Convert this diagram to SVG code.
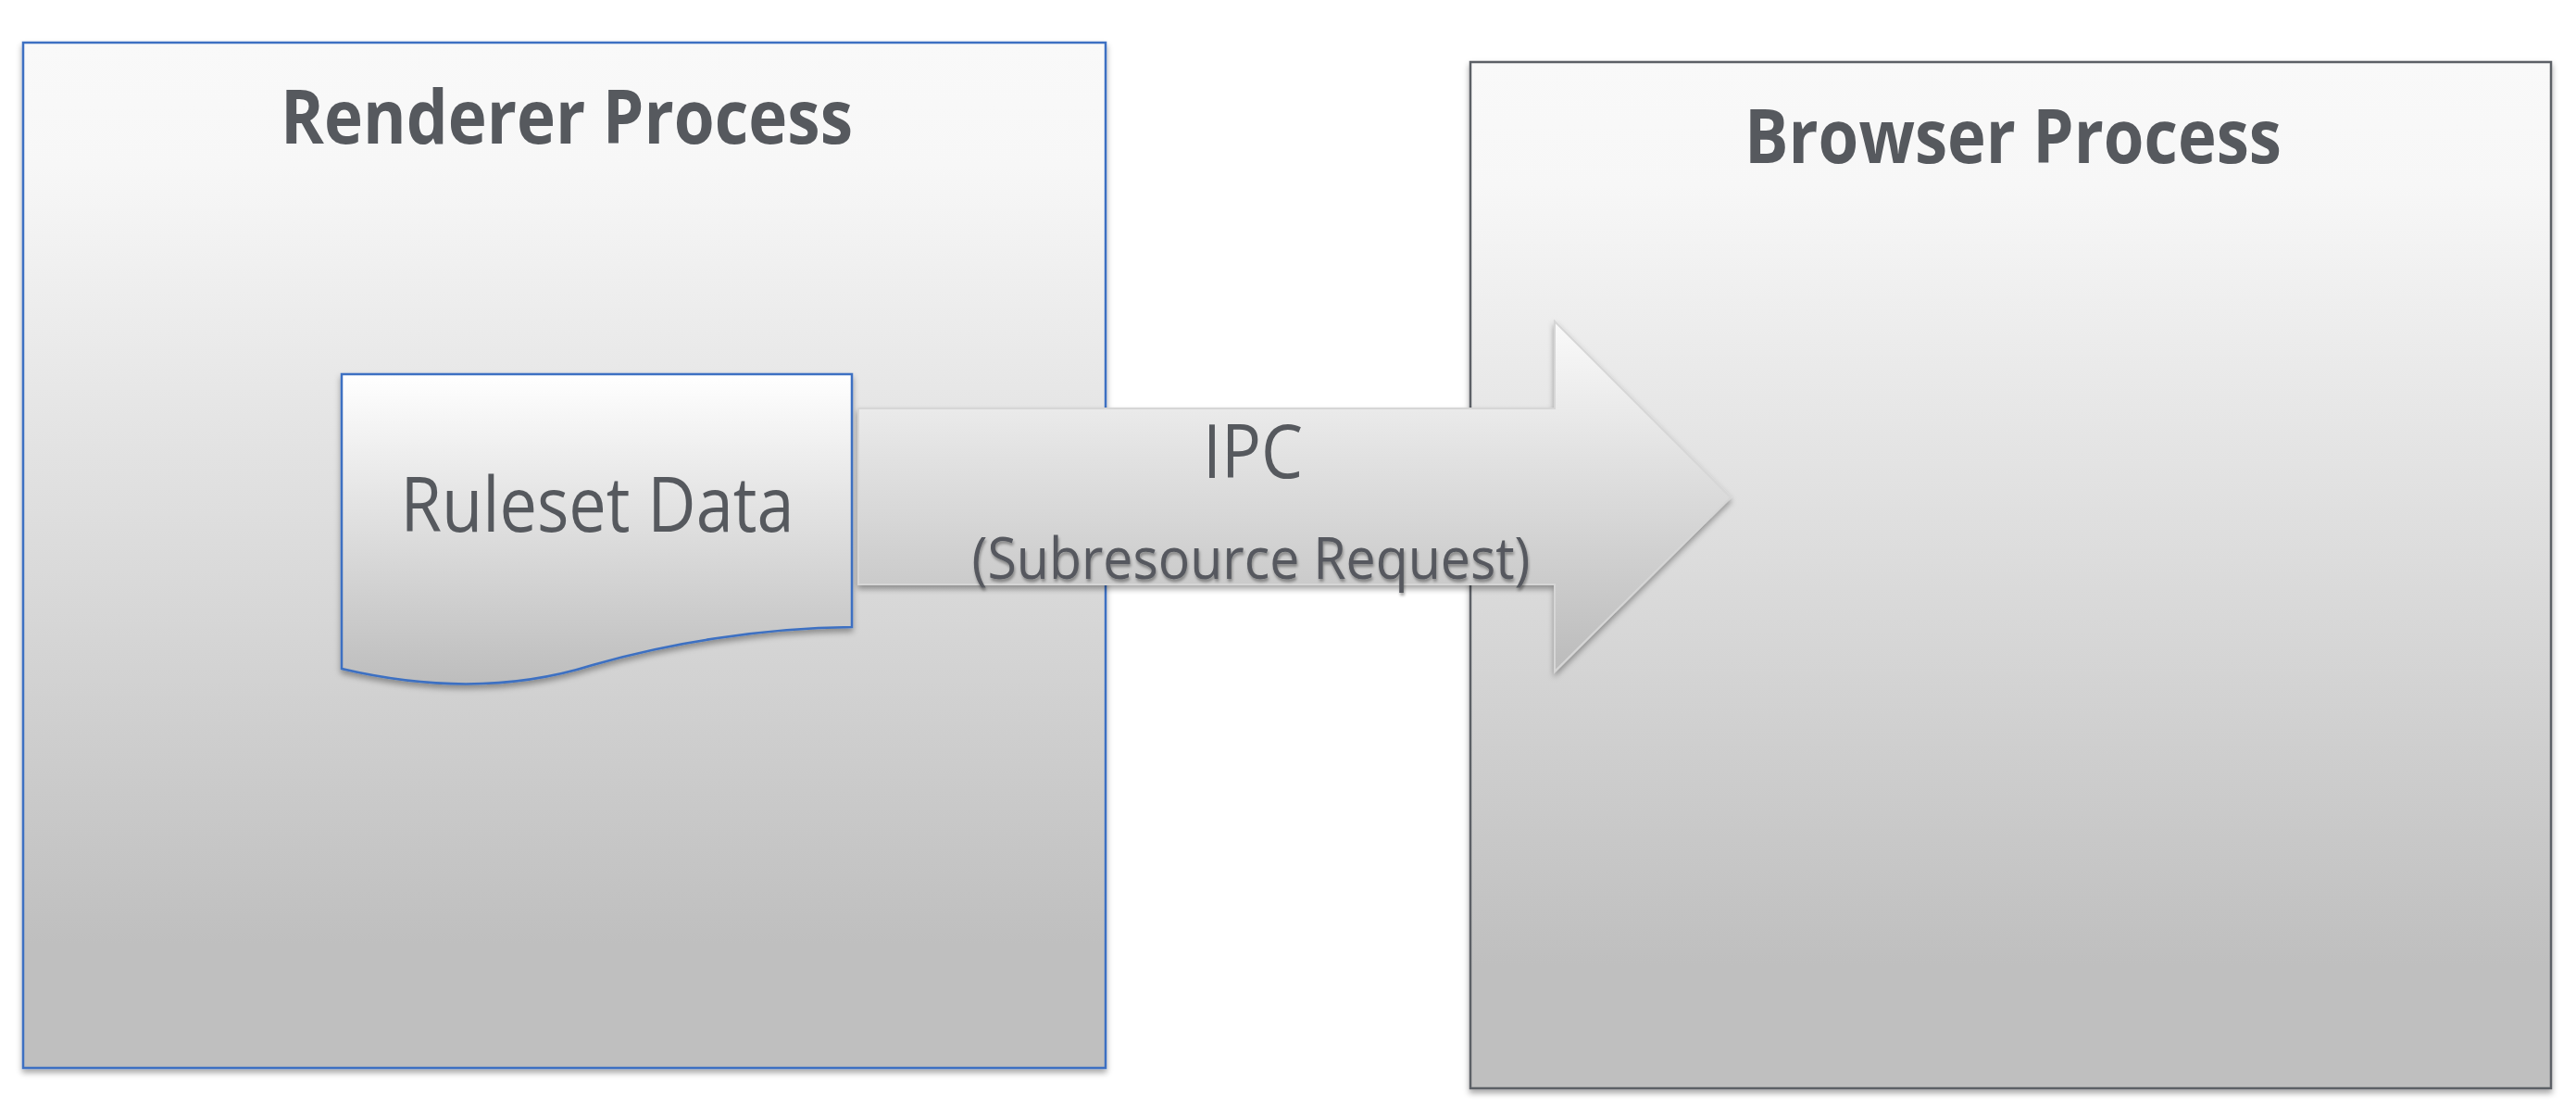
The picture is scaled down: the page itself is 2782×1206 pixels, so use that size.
<svg xmlns="http://www.w3.org/2000/svg" width="2782" height="1206" viewBox="0 0 2782 1206">
<style>
.title{font-family:"Open Sans","Noto Sans","Liberation Sans",sans-serif;font-weight:700;fill:#56595e;text-anchor:middle}
.light{font-family:"Open Sans","Noto Sans","Liberation Sans",sans-serif;font-weight:400;fill:#56595e;text-anchor:middle}
</style>
<defs>
<linearGradient id="gBox" x1="0" y1="0" x2="0" y2="1">
<stop offset="0" stop-color="#f9f9f9"/>
<stop offset="0.12" stop-color="#f7f7f7"/>
<stop offset="0.88" stop-color="#bfbfbf"/>
<stop offset="1" stop-color="#bfbfbf"/>
</linearGradient>
<linearGradient id="gDoc" x1="0" y1="0" x2="0" y2="1">
<stop offset="0" stop-color="#ffffff"/>
<stop offset="1" stop-color="#bdbdbd"/>
</linearGradient>
<linearGradient id="gArrow" gradientUnits="userSpaceOnUse" x1="0" y1="347" x2="0" y2="725">
<stop offset="0" stop-color="#fafafa"/>
<stop offset="1" stop-color="#bbbbbb"/>
</linearGradient>
<filter id="sh" x="-5%" y="-5%" width="110%" height="115%">
<feDropShadow dx="0" dy="4" stdDeviation="3" flood-color="#000" flood-opacity="0.35"/>
</filter>
<filter id="tsh" x="-5%" y="-20%" width="110%" height="150%">
<feDropShadow dx="1" dy="3" stdDeviation="1.5" flood-color="#000" flood-opacity="0.35"/>
</filter>
</defs>
<rect width="2782" height="1206" fill="#ffffff"/>
<g id="renderer">
<rect x="25" y="46" width="1169" height="1107" fill="url(#gBox)" stroke="#3c70c2" stroke-width="2.5" filter="url(#sh)"/>
<text class="title" x="612" y="155" font-size="80" textLength="618" lengthAdjust="spacingAndGlyphs">Renderer Process</text>
</g>
<g id="browser">
<rect x="1588" y="67" width="1167" height="1108" fill="url(#gBox)" stroke="#5c6066" stroke-width="2.5" filter="url(#sh)"/>
<text class="title" x="2174" y="176" font-size="80" textLength="580" lengthAdjust="spacingAndGlyphs">Browser Process</text>
</g>
<g id="ruleset">
<path d="M369,404 H920 V677 C820,678 720,695 640,718 C570,740 480,748 369,722 Z" fill="url(#gDoc)" stroke="#3c70c2" stroke-width="2.5" filter="url(#sh)"/>
<text class="light" x="645" y="574" font-size="82" textLength="425" lengthAdjust="spacingAndGlyphs">Ruleset Data</text>
</g>
<g id="connectors">
<path d="M927,441 H1679 V347 L1869,537 L1679,725 V631 H927 Z" fill="url(#gArrow)" stroke="#d6d6d6" stroke-width="2" filter="url(#sh)"/>
<text class="light" x="1353" y="516" font-size="80" textLength="108" lengthAdjust="spacingAndGlyphs">IPC</text>
<text class="light" x="1351" y="625" font-size="62" textLength="603" lengthAdjust="spacingAndGlyphs" filter="url(#tsh)">(Subresource Request)</text>
</g>
</svg>
